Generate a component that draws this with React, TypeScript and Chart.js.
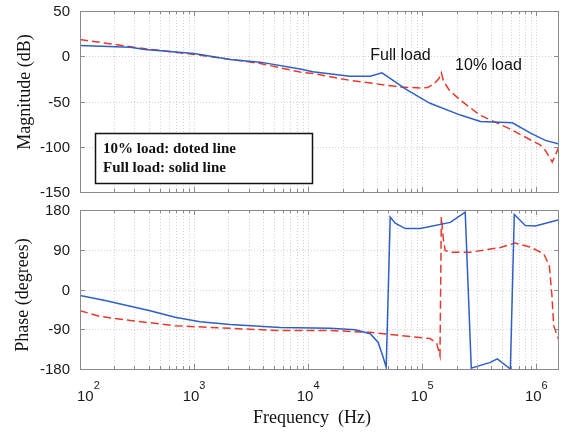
import React, { useEffect, useRef } from "react";
import { Chart, registerables } from "chart.js";

Chart.register(...registerables);

// ---------- data ----------
const FREQ_MIN = 100;
const FREQ_MAX = 1.58e6;
const decadeExponents = [2, 3, 4, 5, 6];
const magTicks = [-150, -100, -50, 0, 50];
const phaseTicks = [-180, -90, 0, 90, 180];

// Magnitude, full load (solid blue)
const magFullFreq = [100, 275, 372, 1000, 2070, 3800, 8500, 11000, 23000, 35000, 44300, 58000, 71000, 117000, 216000, 324000, 617000, 890000, 1200000, 1580000];
const magFullDb = [12, 10, 7.5, 3, -3.5, -6.5, -14, -17, -22, -22, -18.4, -28.3, -36, -52, -65, -72, -73.5, -85, -93, -97];

// Magnitude, 10% load (dashed red)
const magTenFreq = [100, 336, 1000, 3800, 8500, 11000, 23000, 63800, 96000, 112000, 128000, 140000, 147000, 154000, 174000, 216000, 320000, 580000, 1080000, 1200000, 1380000, 1580000];
const magTenDb = [18.5, 9, 2, -8, -17.5, -19, -26.5, -34, -35, -34.6, -30, -24.6, -18.4, -28, -38, -48.5, -65, -80, -98, -104, -117, -100];

// Phase, full load (solid blue)
const phaseFullFreq = [100, 166, 411, 681, 1130, 2070, 5680, 15600, 25800, 35000, 41100, 45000, 48300, 52400, 57900, 71000, 96000, 176000, 238000, 269000, 395000, 455000, 592000, 641000, 801000, 980000, 1580000];
const phaseFullDeg = [-13.6, -25, -48, -63, -73, -79, -86, -88, -91, -100, -120, -150, -176, 164, 150, 138, 138, 152, 175, -178, -165, -157, -180, 170, 145, 144, 158];

// Phase, 10% load (dashed red)
const phaseTenFreq = [100, 150, 275, 681, 2070, 5680, 15600, 35000, 63800, 117000, 134000, 143000, 147000, 153000, 159000, 183000, 264000, 484000, 650000, 889000, 1160000, 1300000, 1370000, 1420000, 1580000];
const phaseTenDeg = [-48, -61, -70, -82, -88, -93, -93, -97, -104, -111, -122, -150, 164, 115, 88, 84.5, 84.5, 95, 105, 96, 81, 54, -14, -82, -115];

const BLUE = "#2f5fc6";
const RED = "#e8392c";

const SANS = '"Liberation Sans", Arial, sans-serif';
const SERIF = '"Liberation Serif", "Times New Roman", serif';

function pts(xs: number[], ys: number[]) {
  return xs.map((x, i) => ({ x, y: ys[i] }));
}

function logGridValues(): { v: number; major: boolean }[] {
  const out: { v: number; major: boolean }[] = [];
  for (const e of decadeExponents) {
    for (let m = 1; m <= 9; m++) {
      const v = m * Math.pow(10, e);
      if (v >= FREQ_MIN && v <= FREQ_MAX) out.push({ v, major: m === 1 });
    }
  }
  return out;
}

const framePlugin = {
  id: "matlabFrame",
  beforeDatasetsDraw(chart: any) {
    const { ctx, chartArea: a, scales } = chart;
    const xs = scales.x;
    const ys = scales.y;
    ctx.save();
    ctx.strokeStyle = "#d2d2d2";
    ctx.lineWidth = 1;
    ctx.setLineDash([1, 2]);
    for (const g of logGridValues()) {
      const px = Math.round(xs.getPixelForValue(g.v)) + 0.5;
      ctx.beginPath();
      ctx.moveTo(px, a.top);
      ctx.lineTo(px, a.bottom);
      ctx.stroke();
    }
    for (const t of ys.ticks) {
      const py = Math.round(ys.getPixelForValue(t.value)) + 0.5;
      ctx.beginPath();
      ctx.moveTo(a.left, py);
      ctx.lineTo(a.right, py);
      ctx.stroke();
    }
    ctx.restore();
  },
  afterDatasetsDraw(chart: any) {
    const { ctx, chartArea: a, scales } = chart;
    const xs = scales.x;
    const ys = scales.y;
    ctx.save();
    ctx.strokeStyle = "#8a8a8a";
    ctx.lineWidth = 1;
    ctx.setLineDash([]);
    for (const g of logGridValues()) {
      const px = Math.round(xs.getPixelForValue(g.v)) + 0.5;
      const len = g.major ? 5 : 3;
      ctx.beginPath();
      ctx.moveTo(px, a.bottom);
      ctx.lineTo(px, a.bottom - len);
      ctx.moveTo(px, a.top);
      ctx.lineTo(px, a.top + len);
      ctx.stroke();
    }
    for (const t of ys.ticks) {
      const py = Math.round(ys.getPixelForValue(t.value)) + 0.5;
      ctx.beginPath();
      ctx.moveTo(a.left, py);
      ctx.lineTo(a.left + 5, py);
      ctx.moveTo(a.right, py);
      ctx.lineTo(a.right - 5, py);
      ctx.stroke();
    }
    ctx.strokeRect(Math.round(a.left) + 0.5, Math.round(a.top) + 0.5, Math.round(a.right - a.left) - 1, Math.round(a.bottom - a.top));

    // y tick labels
    ctx.fillStyle = "#1a1a1a";
    ctx.font = `15px ${SANS}`;
    ctx.textAlign = "right";
    ctx.textBaseline = "middle";
    for (const t of ys.ticks) {
      ctx.fillText(String(t.value), a.left - 10, ys.getPixelForValue(t.value) + 1);
    }
    ctx.restore();
  },
};

function makeConfig(opts: {
  datasets: any[];
  yMin: number;
  yMax: number;
  yTicks: number[];
  padTop: number;
  xHeight: number;
  extra: any;
}) {
  return {
    type: "line",
    data: { datasets: opts.datasets },
    options: {
      animation: false,
      responsive: false,
      events: [],
      layout: { padding: { top: opts.padTop, right: 6, left: 0, bottom: 0 } },
      plugins: { legend: { display: false }, tooltip: { enabled: false }, title: { display: false } },
      scales: {
        x: {
          type: "logarithmic",
          min: FREQ_MIN,
          max: FREQ_MAX,
          ticks: { display: false },
          grid: { display: false, drawTicks: false },
          border: { display: false },
          afterFit: (s: any) => {
            s.height = opts.xHeight;
          },
        },
        y: {
          type: "linear",
          min: opts.yMin,
          max: opts.yMax,
          ticks: { display: false },
          grid: { display: false, drawTicks: false },
          border: { display: false },
          afterBuildTicks: (s: any) => {
            s.ticks = opts.yTicks.map((v) => ({ value: v }));
          },
          afterFit: (s: any) => {
            s.width = 80;
          },
        },
      },
    },
    plugins: [framePlugin, opts.extra],
  } as any;
}

const lineBase = { pointRadius: 0, borderWidth: 1.5, fill: false, tension: 0 };

export default function App() {
  const topRef = useRef<HTMLCanvasElement | null>(null);
  const botRef = useRef<HTMLCanvasElement | null>(null);

  useEffect(() => {
    const topExtra = {
      id: "topText",
      afterDraw(chart: any) {
        const { ctx, chartArea: a, scales } = chart;
        ctx.save();
        ctx.translate(25, 92);
        ctx.rotate(-Math.PI / 2);
        ctx.font = `18px ${SERIF}`;
        ctx.fillStyle = "#111";
        ctx.textAlign = "center";
        ctx.textBaseline = "middle";
        ctx.fillText("Magnitude (dB)", 0, 0);
        ctx.restore();

        ctx.save();
        ctx.font = `16px ${SANS}`;
        ctx.fillStyle = "#111";
        ctx.textAlign = "left";
        ctx.textBaseline = "alphabetic";
        ctx.fillText("Full load", scales.x.getPixelForValue(35000), scales.y.getPixelForValue(-4.4));
        ctx.fillText("10% load", scales.x.getPixelForValue(194000), scales.y.getPixelForValue(-15.5));
        ctx.restore();

        ctx.save();
        const bx = a.left + 15.5;
        const by = 133.5;
        const bw = 217;
        const bh = 50;
        ctx.fillStyle = "#fff";
        ctx.fillRect(bx, by, bw, bh);
        ctx.strokeStyle = "#111";
        ctx.lineWidth = 1.5;
        ctx.strokeRect(bx, by, bw, bh);
        ctx.font = `bold 15px ${SERIF}`;
        ctx.fillStyle = "#111";
        ctx.textAlign = "left";
        ctx.textBaseline = "alphabetic";
        ctx.fillText("10% load: doted line", bx + 7.5, 153);
        ctx.fillText("Full load: solid line", bx + 7.5, 172);
        ctx.restore();
      },
    };

    const botExtra = {
      id: "botText",
      afterDraw(chart: any) {
        const { ctx, chartArea: a, scales } = chart;
        ctx.save();
        ctx.translate(23, 97);
        ctx.rotate(-Math.PI / 2);
        ctx.font = `18px ${SERIF}`;
        ctx.fillStyle = "#111";
        ctx.textAlign = "center";
        ctx.textBaseline = "middle";
        ctx.fillText("Phase (degrees)", 0, 0);
        ctx.restore();

        ctx.save();
        ctx.fillStyle = "#1a1a1a";
        ctx.textBaseline = "alphabetic";
        ctx.textAlign = "left";
        for (const e of decadeExponents) {
          const px = scales.x.getPixelForValue(Math.pow(10, e));
          ctx.font = `15px ${SANS}`;
          const w10 = ctx.measureText("10").width;
          ctx.font = `11px ${SANS}`;
          const we = ctx.measureText(String(e)).width;
          let sx = px - (w10 + we) / 2;
          if (sx < a.left - 3) sx = a.left - 3;
          ctx.font = `15px ${SANS}`;
          ctx.fillText("10", sx, a.bottom + 32);
          ctx.font = `11px ${SANS}`;
          ctx.fillText(String(e), sx + w10, a.bottom + 20);
        }
        ctx.restore();

        ctx.save();
        ctx.font = `18px ${SERIF}`;
        ctx.fillStyle = "#111";
        ctx.textAlign = "center";
        ctx.textBaseline = "alphabetic";
        ctx.fillText("Frequency  (Hz)", 312, 225);
        ctx.restore();
      },
    };

    const top = new Chart(
      topRef.current as HTMLCanvasElement,
      makeConfig({
        datasets: [
          { ...lineBase, data: pts(magFullFreq, magFullDb), borderColor: BLUE },
          { ...lineBase, data: pts(magTenFreq, magTenDb), borderColor: RED, borderDash: [8, 4] },
        ],
        yMin: -150,
        yMax: 50,
        yTicks: magTicks,
        padTop: 11,
        xHeight: 10,
        extra: topExtra,
      })
    );
    const bot = new Chart(
      botRef.current as HTMLCanvasElement,
      makeConfig({
        datasets: [
          { ...lineBase, data: pts(phaseFullFreq, phaseFullDeg), borderColor: BLUE },
          { ...lineBase, data: pts(phaseTenFreq, phaseTenDeg), borderColor: RED, borderDash: [8, 4] },
        ],
        yMin: -180,
        yMax: 180,
        yTicks: phaseTicks,
        padTop: 12,
        xHeight: 63,
        extra: botExtra,
      })
    );
    return () => {
      top.destroy();
      bot.destroy();
    };
  }, []);

  return (
    <div style={{ position: "absolute", left: 0, top: 0, width: 565, height: 432, background: "#fff", overflow: "hidden" }}>
      <canvas ref={topRef} width={565} height={202} style={{ position: "absolute", left: 0, top: 0, width: 565, height: 202, display: "block" }} />
      <canvas ref={botRef} width={565} height={234} style={{ position: "absolute", left: 0, top: 198, width: 565, height: 234, display: "block" }} />
    </div>
  );
}
